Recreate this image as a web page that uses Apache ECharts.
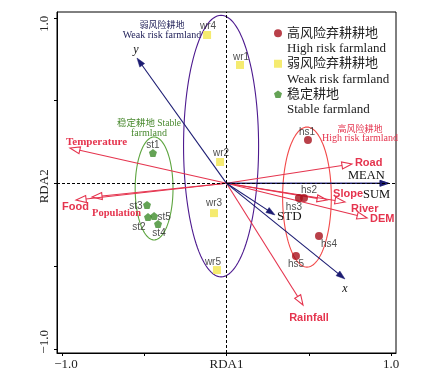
<!DOCTYPE html>
<html><head><meta charset="utf-8">
<script src="https://cdn.jsdelivr.net/npm/echarts@6/dist/echarts.min.js"></script>
<style>html,body{margin:0;padding:0;background:#fff}#c{width:424px;height:385px}</style>
</head><body><div id="c"></div>
<script>
// ---------- data ----------
const highNames = ['hs1','hs2','hs3','hs4','hs5'];
const highX = [0.495, 0.471, 0.440, 0.562, 0.422];
const highY = [0.262, -0.089, -0.089, -0.318, -0.439];

const weakNames = ['wr1','wr2','wr3','wr4','wr5'];
const weakX = [0.082, -0.039, -0.076, -0.118, -0.058];
const weakY = [0.715, 0.129, -0.180, 0.896, -0.524];

const stableNames = ['st1','st2','st3','st4','st5'];
const stableX = [-0.447, -0.477, -0.483, -0.416, -0.440];
const stableY = [0.183, -0.204, -0.131, -0.246, -0.198];

const envNames = ['Temperature','Food','Population','Road','Slope','River','DEM','Rainfall'];
const envX = [-0.951, -0.914, -0.817, 0.762, 0.611, 0.720, 0.854, 0.465];
const envY = [0.213, -0.101, -0.083, 0.117, -0.101, -0.113, -0.209, -0.735];

const scoreNames = ['y','x','STD','MEAN','SUM'];
const scoreX = [-0.544, 0.720, 0.295, 0.987, 0.987];
const scoreY = [0.757, -0.578, -0.191, 0.0, 0.0];

const groupNames = ['stable','weak','high'];
const groupCX = [-0.440, -0.033, 0.489];
const groupCY = [-0.031, 0.225, -0.083];
const groupRX = [0.115, 0.228, 0.148];
const groupRY = [0.311, 0.790, 0.423];

const xTickValues = [-1, -0.5, 0, 0.5, 1];
const xLabelValues = [-1, 0, 1];
const xTickLabels = ['−1.0', 'RDA1', '1.0'];
const yTickValues = [-1, -0.5, 0, 0.5, 1];
const yLabelValues = [-1, 0, 1];
const yTickLabels = ['−1.0', 'RDA2', '1.0'];

const legendLine1 = {high:'高风险弃耕耕地', weak:'弱风险弃耕耕地', stable:'稳定耕地'};
const legendLine2 = {high:'High risk farmland', weak:'Weak risk farmland', stable:'Stable farmland'};

// ---------- styles ----------
const RED = '#e5344e', NAVY = '#1c1c72';
const SERIF = '"Liberation Serif","Noto Sans CJK SC"';
const SANS = '"Liberation Sans","Noto Sans CJK SC"';
const pointLabelOffset = {
  hs1:[-1,-8], hs2:[5,-8], hs3:[-5,9], hs4:[10,8], hs5:[0,8],
  wr1:[1,-8], wr2:[1,-9], wr3:[0,-10], wr4:[1,-9], wr5:[-4,-8],
  st1:[0,-8], st2:[-9,10], st3:[-11,1], st4:[1,9], st5:[10,1]
};
const envLabel = {
  Temperature:{dx:-4, dy:-6, align:'left', font:'bold 11px ' + SERIF},
  Food:{dx:-14, dy:7, align:'left', font:'bold 11px ' + SANS},
  Population:{dx:0, dy:16, align:'left', font:'bold 10.5px ' + SERIF},
  Road:{dx:3, dy:-1, align:'left', font:'bold 11px ' + SANS},
  Slope:{dx:6, dy:-6, align:'left', font:'bold 11px ' + SANS},
  River:{dx:6, dy:7, align:'left', font:'bold 11px ' + SANS},
  DEM:{dx:3, dy:1, align:'left', font:'bold 11px ' + SANS},
  Rainfall:{dx:6, dy:13, align:'center', font:'bold 11px ' + SANS}
};
const scoreLabel = {
  y:{dx:-1, dy:-8, align:'center', font:'italic 12px ' + SERIF},
  x:{dx:0, dy:10, align:'center', font:'italic 12px ' + SERIF},
  STD:{dx:2, dy:2, align:'left', font:'13px ' + SERIF},
  MEAN:{dx:-41, dy:-8, align:'left', font:'12.5px ' + SERIF},
  SUM:{dx:-26, dy:11, align:'left', font:'12.5px ' + SERIF}
};
const groupColor = ['#5ea540', '#4d1a8f', '#f24a4a'];

function pts(names, xs, ys) {
  return names.map((n, i) => ({
    name: n, value: [xs[i], ys[i]],
    label: { offset: pointLabelOffset[n] }
  }));
}

function arrowSeries(names, xs, ys, color, hollow, labelCfg, textColor) {
  return {
    type: 'custom', silent: true, z: 3,
    data: names.map((n, i) => ({ name: n, value: [xs[i], ys[i]] })),
    renderItem: function (params, api) {
      const name = names[params.dataIndex];
      const o = api.coord([0, 0]);
      const t = api.coord([api.value(0), api.value(1)]);
      const dx = t[0] - o[0], dy = t[1] - o[1], len = Math.hypot(dx, dy);
      const ux = dx / len, uy = dy / len, nx = -uy, ny = ux;
      const L = hollow ? 10 : 9, W = hollow ? 3.5 : 3;
      const bx = t[0] - ux * L, by = t[1] - uy * L;
      const lc = labelCfg[name];
      return {
        type: 'group',
        children: [
          { type: 'line', shape: { x1: o[0], y1: o[1], x2: hollow ? bx : bx + ux * 2, y2: hollow ? by : by + uy * 2 },
            style: { stroke: color, lineWidth: 1.1 } },
          { type: 'polygon', shape: { points: [[t[0], t[1]], [bx + nx * W, by + ny * W], [bx - nx * W, by - ny * W]] },
            style: hollow ? { fill: 'none', stroke: color, lineWidth: 1.1 } : { fill: color, stroke: color, lineWidth: 0.5 } },
          { type: 'text', x: t[0] + lc.dx, y: t[1] + lc.dy,
            style: { text: name, font: lc.font, fill: textColor, align: lc.align, verticalAlign: 'middle' } }
        ]
      };
    }
  };
}

const chart = echarts.init(document.getElementById('c'), null, { renderer: 'canvas' });
chart.setOption({
  animation: false,
  backgroundColor: '#fff',
  grid: { left: 57, right: 28, top: 12, bottom: 32, show: true, borderColor: '#000', borderWidth: 1 },
  xAxis: {
    type: 'value', min: -1.03, max: 1.03,
    splitLine: { show: false },
    axisLine: { onZero: false, lineStyle: { color: '#000', width: 1 } },
    axisTick: { customValues: xTickValues, length: 3, lineStyle: { color: '#000' } },
    axisLabel: {
      customValues: xLabelValues, margin: 5,
      formatter: v => {
        const s = xTickLabels[xLabelValues.indexOf(v)];
        return v < 0 ? '{m|' + s + '}' : '{n|' + s + '}';
      },
      rich: {
        m: { fontFamily: SERIF, fontSize: 13, color: '#222', padding: [0, 0, 0, 8] },
        n: { fontFamily: SERIF, fontSize: 13, color: '#222' }
      }
    }
  },
  yAxis: {
    type: 'value', min: -1.025, max: 1.035,
    splitLine: { show: false },
    axisLine: { onZero: false, lineStyle: { color: '#000', width: 1 } },
    axisTick: { customValues: yTickValues, length: 3, lineStyle: { color: '#000' } },
    axisLabel: {
      customValues: yLabelValues, rotate: 90, margin: 6,
      formatter: v => {
        const s = yTickLabels[yLabelValues.indexOf(v)];
        if (v < 0) return '{a|' + s + '}';
        if (v > 0) return '{b|' + s + '}';
        return '{c|' + s + '}';
      },
      rich: {
        a: { fontFamily: SERIF, fontSize: 13, color: '#222', padding: [0, 0, 0, 14] },
        b: { fontFamily: SERIF, fontSize: 13, color: '#222', padding: [0, 12, 0, 0] },
        c: { fontFamily: SERIF, fontSize: 13, color: '#222', padding: [0, 6, 0, 0] }
      }
    }
  },
  legend: {
    orient: 'vertical', left: 269, top: 5,
    itemWidth: 8, itemHeight: 8, itemGap: -16,
    selectedMode: false,
    data: ['high', 'weak', 'stable'],
    formatter: n => '\n' + legendLine1[n] + '\n' + legendLine2[n],
    itemStyle: { borderWidth: 0 },
    textStyle: { fontFamily: SERIF, fontSize: 13, lineHeight: 15.5, color: '#222' }
  },
  graphic: [
    { type: 'text', x: 162, y: 25, style: { text: '弱风险耕地', font: '9px "Noto Sans CJK SC"', fill: '#22225a', align: 'center', verticalAlign: 'middle' } },
    { type: 'text', x: 162, y: 35, style: { text: 'Weak risk farmland', font: '10px ' + SERIF, fill: '#22225a', align: 'center', verticalAlign: 'middle' } },
    { type: 'text', x: 149, y: 123, style: { text: '稳定耕地 Stable', font: '9.5px ' + SERIF, fill: '#4a8a30', align: 'center', verticalAlign: 'middle' } },
    { type: 'text', x: 149, y: 133, style: { text: 'farmland', font: '10px ' + SERIF, fill: '#4a8a30', align: 'center', verticalAlign: 'middle' } },
    { type: 'text', x: 360, y: 129, style: { text: '高风险耕地', font: '9px "Noto Sans CJK SC"', fill: RED, align: 'center', verticalAlign: 'middle' } },
    { type: 'text', x: 360, y: 138, style: { text: 'High risk farmland', font: '10px ' + SERIF, fill: RED, align: 'center', verticalAlign: 'middle' } }
  ],
  series: [
    {
      type: 'custom', silent: true, z: 1,
      data: groupNames.map((n, i) => ({ name: n, value: [groupCX[i], groupCY[i], groupRX[i], groupRY[i]] })),
      renderItem: function (params, api) {
        const c = api.coord([api.value(0), api.value(1)]);
        const s = api.size([api.value(2), api.value(3)]);
        const p = [];
        for (let k = 0; k < 120; k++) {
          const a = k / 120 * Math.PI * 2;
          p.push([c[0] + s[0] * Math.cos(a), c[1] + s[1] * Math.sin(a)]);
        }
        return { type: 'polygon', shape: { points: p }, style: { fill: 'none', stroke: groupColor[params.dataIndex], lineWidth: 1.1 } };
      }
    },
    {
      name: 'high', type: 'scatter', symbol: 'circle', symbolSize: 8, z: 4,
      itemStyle: { color: '#a8101c' },
      label: { show: true, position: 'inside', formatter: '{b}', color: '#222', fontSize: 10, fontFamily: SANS },
      data: pts(highNames, highX, highY),
      markLine: {
        silent: true, symbol: 'none', label: { show: false },
        lineStyle: { color: '#000', width: 1, type: [3, 2] },
        data: [{ xAxis: 0 }, { yAxis: 0 }]
      }
    },
    {
      name: 'weak', type: 'scatter', symbol: 'rect', symbolSize: 8, z: 4,
      itemStyle: { color: '#f2e64c' },
      label: { show: true, position: 'inside', formatter: '{b}', color: '#222', fontSize: 10, fontFamily: SANS },
      data: pts(weakNames, weakX, weakY)
    },
    {
      name: 'stable', type: 'scatter',
      symbol: 'path://M0,-1 L0.951,-0.309 L0.588,0.809 L-0.588,0.809 L-0.951,-0.309 Z',
      symbolSize: 8, z: 4,
      itemStyle: { color: '#3f8c2c' },
      label: { show: true, position: 'inside', formatter: '{b}', color: '#222', fontSize: 10, fontFamily: SANS },
      data: pts(stableNames, stableX, stableY)
    },
    arrowSeries(envNames, envX, envY, RED, true, envLabel, RED),
    arrowSeries(scoreNames, scoreX, scoreY, NAVY, false, scoreLabel, '#111')
  ]
});
</script>
</body></html>
